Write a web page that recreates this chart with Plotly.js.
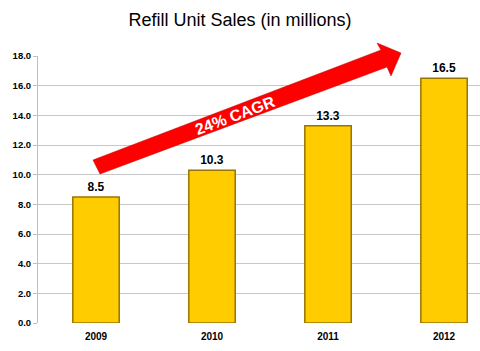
<!DOCTYPE html>
<html>
<head>
<meta charset="utf-8">
<script src="https://cdn.plot.ly/plotly-3.0.1.min.js"></script>
<style>html,body{margin:0;padding:0;background:#fff;}#chart{width:480px;height:351px;}</style>
</head>
<body>
<div id="chart"></div>
<script>
var years = ['2009', '2010', '2011', '2012'];
var sales = [8.5, 10.3, 13.3, 16.5];
var yTicks = [0, 2, 4, 6, 8, 10, 12, 14, 16, 18];
var titleText = 'Refill Unit Sales (in millions)';
var cagrText = '24% CAGR';

var FONT = 'Liberation Sans, Arial, sans-serif';

var trace = {
  type: 'bar',
  x: years,
  y: sales,
  width: 0.4,
  marker: {color: '#FFCC00', line: {color: '#9A7400', width: 1.5}},
  text: sales.map(function(v){return v.toFixed(1);}),
  textposition: 'outside',
  textfont: {family: FONT, size: 12, color: '#000', weight: 'bold'},
  cliponaxis: false,
  hoverinfo: 'none'
};

var layout = {
  width: 480, height: 351,
  margin: {l: 38, r: 0, t: 56, b: 28},
  paper_bgcolor: '#fff', plot_bgcolor: '#fff',
  showlegend: false,
  title: {text: titleText, font: {family: FONT, size: 18, color: '#000'}, x: 0.5, xanchor: 'center', y: 0.962, yanchor: 'top'},
  xaxis: {
    type: 'category', range: [-0.5, 3.31],
    showgrid: false, zeroline: false, showline: false, ticks: '',
    ticklabelstandoff: 6,
    tickfont: {family: FONT, size: 10, color: '#000', weight: 'bold'}
  },
  yaxis: {
    range: [0, 18], tickvals: yTicks, ticktext: yTicks.map(function(v){return v.toFixed(1);}),
    showgrid: true, gridcolor: '#C8C8C8', gridwidth: 1,
    zeroline: false, showline: true, linecolor: '#C0C0C0', linewidth: 1,
    ticks: 'outside', ticklen: 4, tickcolor: '#C0C0C0',
    tickfont: {family: FONT, size: 9.5, color: '#000', weight: 'bold'}
  },
  shapes: [{
    type: 'path', xref: 'paper', yref: 'paper',
    path: 'M0.1244,0.6105 L0.7760,1.0225 L0.7670,1.0487 L0.8213,1.0112 L0.7986,0.9251 L0.7896,0.9588 L0.1403,0.5581 Z',
    fillcolor: '#FF0000', line: {color: '#C00000', width: 0.5}, layer: 'above'
  }],
  annotations: [{
    text: cagrText, xref: 'paper', yref: 'paper', x: 0.4457, y: 0.779,
    xanchor: 'center', yanchor: 'middle', showarrow: false, textangle: -20.5,
    font: {family: FONT, size: 16, color: '#fff', weight: 'bold'}
  }]
};

Plotly.newPlot('chart', [trace], layout, {displayModeBar: false, staticPlot: true});
</script>
</body>
</html>
